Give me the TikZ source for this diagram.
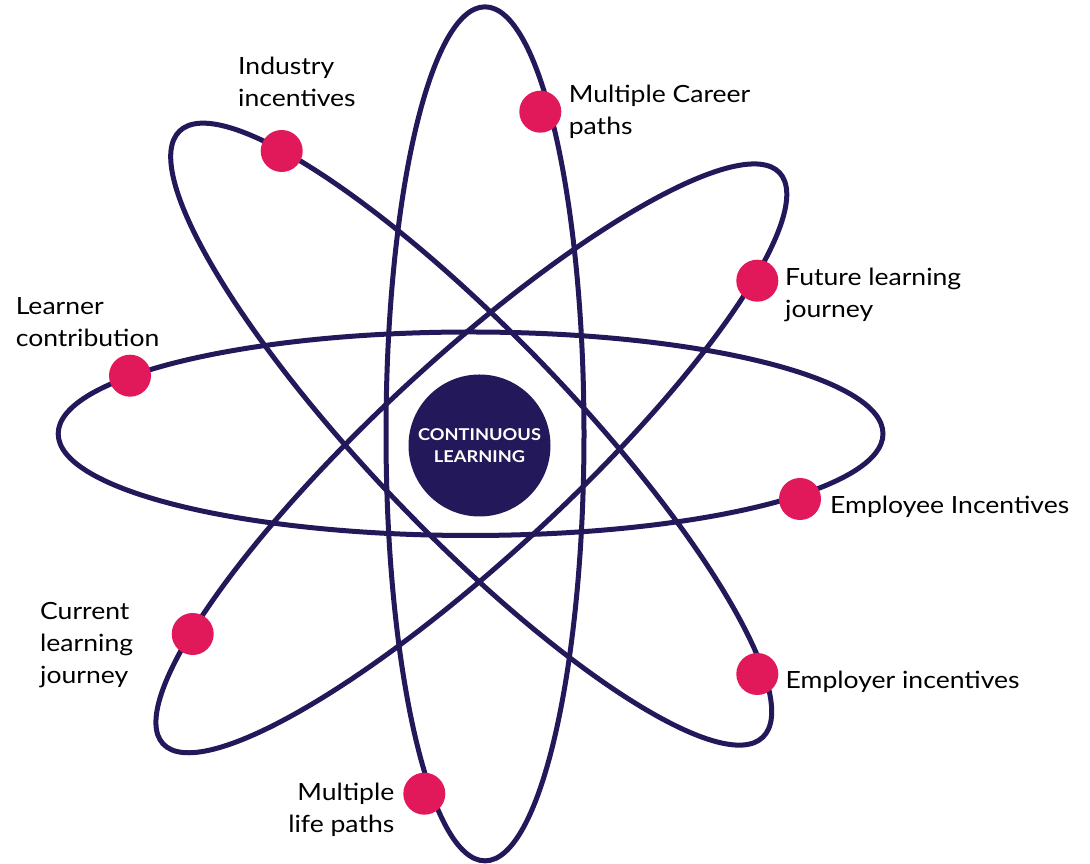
\documentclass[tikz,border=0pt]{standalone}
\usepackage{fontspec}
\setmainfont[FakeStretch=1.12]{Lato}
\usetikzlibrary{positioning}
\definecolor{orbitblue}{RGB}{35,25,90}
\definecolor{dotpink}{RGB}{225,24,90}

\begin{document}
\begin{tikzpicture}[x=1pt,y=1pt,
		orbit/.style={draw=orbitblue,line width=5pt},
		electron/.style={circle,fill=dotpink,minimum size=42pt,inner sep=0pt},
		lbl/.style={inner sep=0pt,font=\fontsize{23.7}{32}\selectfont}]
		\useasboundingbox (0,0) rectangle (1090,864);
		% orbits
		\draw[orbit] (470.6,430.25) ellipse [x radius=412.4,y radius=101.75];
		\draw[orbit] (485,430.15) ellipse [x radius=99,y radius=427];
		\begin{scope}[shift={(471.2,429.85)},rotate=-46.1]
			\draw[orbit] (0,0) ellipse [x radius=420.6,y radius=100.2];
		\end{scope}
		\begin{scope}[shift={(471.35,405.65)},rotate=42.8]
			\draw[orbit] (0,0) ellipse [x radius=420.2,y radius=97.7];
		\end{scope}
		% nucleus
		\node[circle,fill=orbitblue,minimum size=142pt,inner sep=0pt,text=white,
			align=center,font=\bfseries\fontsize{16.3}{21.6}\selectfont]
			(core) at (479.5,418.5) {CONTINUOUS\\LEARNING};
		% electrons
		\node[electron] (industry) at (281.7,713) {};
		\node[electron] (career) at (540.3,752.3) {};
		\node[electron] (future) at (757.3,583.3) {};
		\node[electron] (learner) at (130,488.3) {};
		\node[electron] (employee) at (800,365) {};
		\node[electron] (current) at (192.7,230) {};
		\node[electron] (employer) at (757.3,190) {};
		\node[electron] (life) at (424.3,70.3) {};
		% labels
		\node[lbl,anchor=north west,align=left] (industry-l) at (238,807) {Industry\\incentives};
		\node[lbl,anchor=north west,align=left] (career-l) at (568.6,779) {Multiple Career\\paths};
		\node[lbl,anchor=north west,align=left] (future-l) at (785,596) {Future learning\\journey};
		\node[lbl,anchor=north west,align=left] (learner-l) at (15.6,567) {Learner\\contribution};
		\node[lbl,anchor=north west] (employee-l) at (830,368) {Employee Incentives};
		\node[lbl,anchor=north west,align=left] (current-l) at (40,262) {Current\\learning\\journey};
		\node[lbl,anchor=north west] (employer-l) at (785.5,193) {Employer incentives};
		\node[lbl,anchor=north east,align=right] (life-l) at (394.5,81.3) {Multiple\\life paths};
	\end{tikzpicture}
\end{document}
